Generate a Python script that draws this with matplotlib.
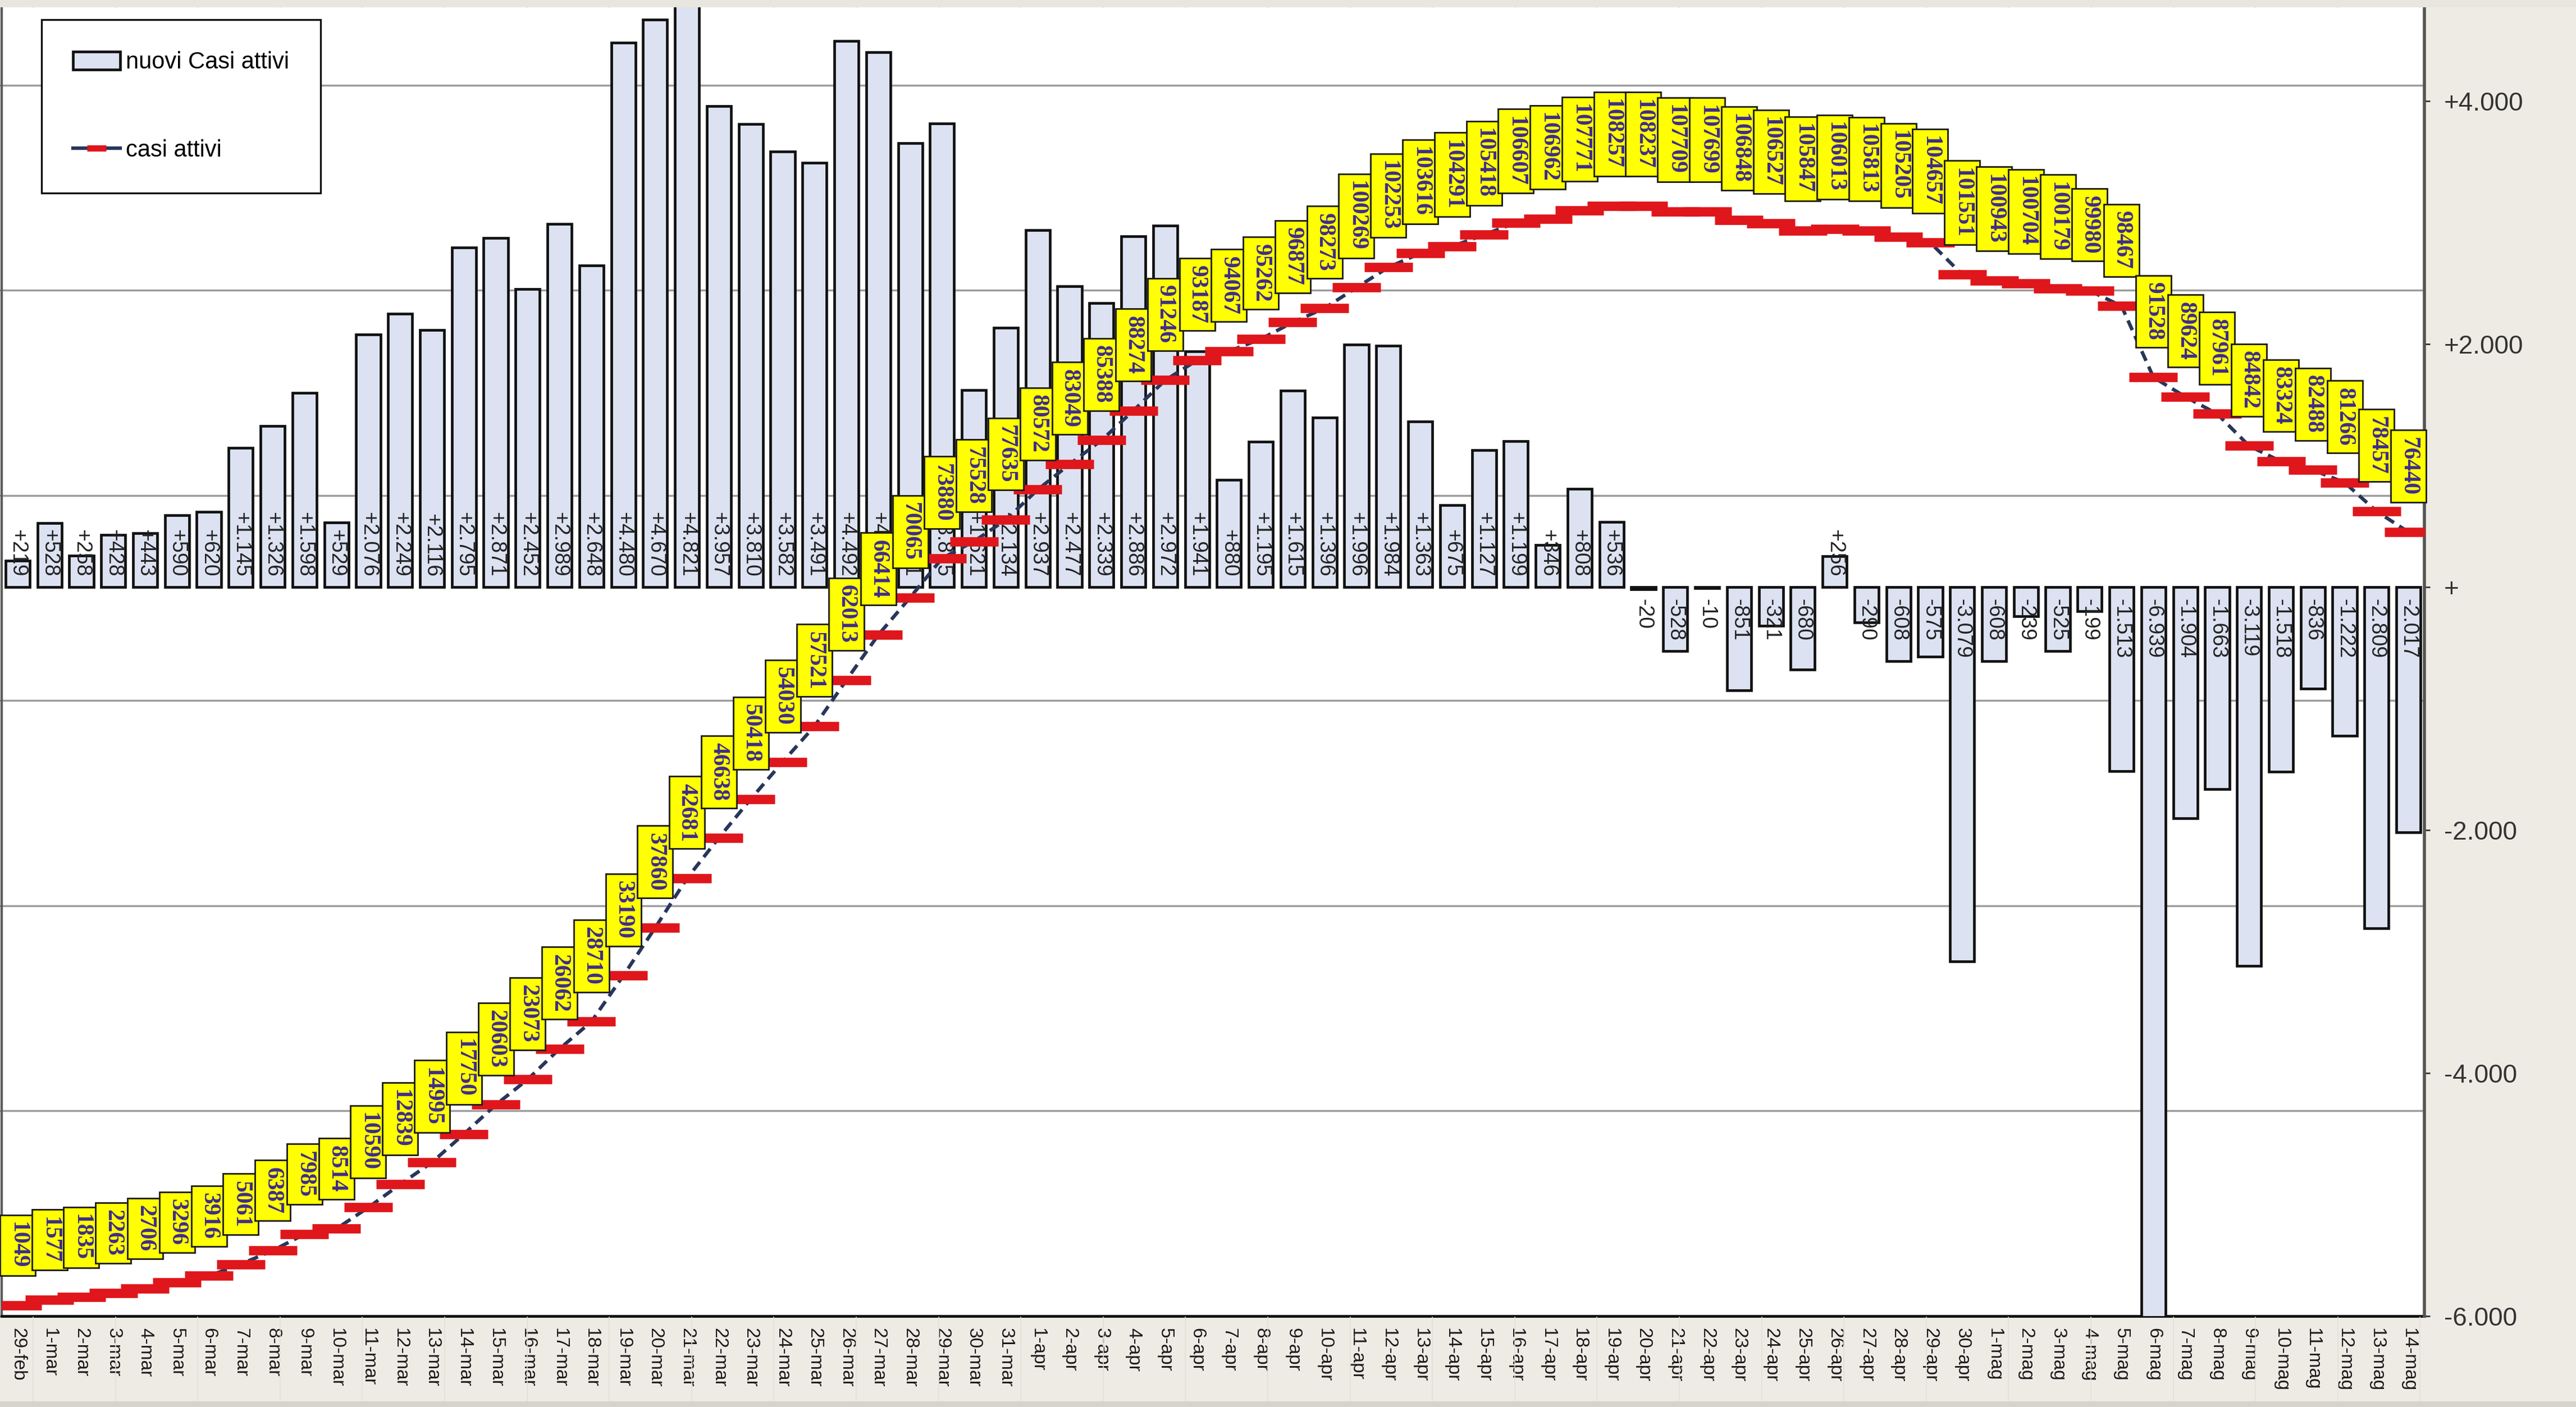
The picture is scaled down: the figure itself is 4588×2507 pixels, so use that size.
import matplotlib
matplotlib.use("Agg")
import matplotlib.pyplot as plt
from matplotlib.lines import Line2D
from matplotlib.patches import Rectangle

# --- data -------------------------------------------------------------
giorni_feb = ["29-feb"]
giorni_mar = ["1-mar", "2-mar", "3-mar", "4-mar", "5-mar", "6-mar", "7-mar", "8-mar",
              "9-mar", "10-mar", "11-mar", "12-mar", "13-mar", "14-mar", "15-mar",
              "16-mar", "17-mar", "18-mar", "19-mar", "20-mar", "21-mar", "22-mar",
              "23-mar", "24-mar", "25-mar", "26-mar", "27-mar", "28-mar", "29-mar",
              "30-mar", "31-mar"]
giorni_apr = ["1-apr", "2-apr", "3-apr", "4-apr", "5-apr", "6-apr", "7-apr", "8-apr",
              "9-apr", "10-apr", "11-apr", "12-apr", "13-apr", "14-apr", "15-apr",
              "16-apr", "17-apr", "18-apr", "19-apr", "20-apr", "21-apr", "22-apr",
              "23-apr", "24-apr", "25-apr", "26-apr", "27-apr", "28-apr", "29-apr",
              "30-apr"]
giorni_mag = ["1-mag", "2-mag", "3-mag", "4-mag", "5-mag", "6-mag", "7-mag", "8-mag",
              "9-mag", "10-mag", "11-mag", "12-mag", "13-mag", "14-mag"]
giorni = giorni_feb + giorni_mar + giorni_apr + giorni_mag

# daily change of active cases (bars, right scale)
nuovi_casi_attivi = [
    219,
    528, 258, 428, 443, 590, 620, 1145, 1326, 1598, 529, 2076, 2249, 2116, 2795, 2871,
    2452, 2989, 2648, 4480, 4670, 4821, 3957, 3810, 3582, 3491, 4492, 4401, 3651, 3815,
    1621, 2134,
    2937, 2477, 2339, 2886, 2972, 1941, 880, 1195, 1615, 1396, 1996, 1984, 1363, 675,
    1127, 1199, 346, 808, 536, -20, -528, -10, -851, -321, -680, 256, -290, -608, -575,
    -3079,
    -608, -239, -525, -199, -1513, -6939, -1904, -1663, -3119, -1518, -836, -1222,
    -2809, -2017,
]

# total active cases (line, left scale)
casi_attivi = [
    1049,
    1577, 1835, 2263, 2706, 3296, 3916, 5061, 6387, 7985, 8514, 10590, 12839, 14995,
    17750, 20603, 23073, 26062, 28710, 33190, 37860, 42681, 46638, 50418, 54030, 57521,
    62013, 66414, 70065, 73880, 75528, 77635,
    80572, 83049, 85388, 88274, 91246, 93187, 94067, 95262, 96877, 98273, 100269,
    102253, 103616, 104291, 105418, 106607, 106962, 107771, 108257, 108237, 107709,
    107699, 106848, 106527, 105847, 106013, 105813, 105205, 104657, 101551,
    100943, 100704, 100179, 99980, 98467, 91528, 89624, 87961, 84842, 83324, 82488,
    81266, 78457, 76440,
]

tick_destra = [-6000, -4000, -2000, 0, 2000, 4000]
etichette_destra = ["-6.000", "-4.000", "-2.000", "+", "+2.000", "+4.000"]
griglia_sinistra = [0, 20000, 40000, 60000, 80000, 100000, 120000]

# --- figure -----------------------------------------------------------
W, H = 4588, 2507
fig = plt.figure(figsize=(W / 100, H / 100), dpi=100, facecolor="#EEEBE5")

left, right = 3 / W, 4318 / W
bottom, top = 1 - 2345 / H, 1 - 13 / H
x = list(range(len(giorni)))

# sheet-like background details
fig.patches.append(Rectangle((0, 0), 1, 10 / H, transform=fig.transFigure,
                             facecolor="#D6D3CD", edgecolor="none", zorder=0))
fig.patches.append(Rectangle((0, top), 1, 1 - top, transform=fig.transFigure,
                             facecolor="#E8E6DE", edgecolor="none", zorder=0))
for k in range(32):
    xc = (59 + 146.6 * k) / W
    if xc < right:
        fig.lines.append(Line2D([xc, xc], [10 / H, bottom - 2 / H],
                                transform=fig.transFigure, color="#E2DFD8",
                                lw=1.2, zorder=0))
        fig.lines.append(Line2D([xc, xc], [top, 1],
                                transform=fig.transFigure, color="#CFCBC2",
                                lw=1.2, zorder=0))

# base axes: white plot area, grid on the left (hidden) scale, date labels
ax_grid = fig.add_axes([left, bottom, right - left, top - bottom])
ax_grid.set_facecolor("white")
ax_grid.set_xlim(-0.5, len(giorni) - 0.5)
ax_grid.set_ylim(0, 127600)
ax_grid.set_yticks(griglia_sinistra)
ax_grid.yaxis.grid(True, color="#9C9C9C", lw=2.5)
ax_grid.set_axisbelow(True)
ax_grid.tick_params(axis="y", left=False, labelleft=False)
ax_grid.set_xticks(x)
ax_grid.set_xticklabels(giorni, rotation=270, fontsize=24, family="Liberation Sans",
                        color="#1A1A1A")
ax_grid.tick_params(axis="x", length=0, pad=15)
for s in ("top", "right"):
    ax_grid.spines[s].set_visible(False)
ax_grid.spines["left"].set_color("#5A5A5A")
ax_grid.spines["left"].set_linewidth(3)
ax_grid.spines["bottom"].set_color("#111111")
ax_grid.spines["bottom"].set_linewidth(3.5)

# bars on the right scale
ax_bar = ax_grid.twinx()
ax_bar.set_ylim(-6000, 4771)
barre = ax_bar.bar(x, nuovi_casi_attivi, width=0.76, color="#DCE2F1",
                   edgecolor="#111111", linewidth=3.4, label="nuovi Casi attivi")
ax_bar.set_yticks(tick_destra)
ax_bar.set_yticklabels(etichette_destra, family=["Liberation Sans Narrow", "Liberation Sans"])
ax_bar.tick_params(axis="y", right=True, length=7, width=2, pad=18, labelsize=33,
                   colors="#333333")
for s in ("top", "left", "bottom"):
    ax_bar.spines[s].set_visible(False)
ax_bar.spines["right"].set_color("#555555")
ax_bar.spines["right"].set_linewidth(4)

for xi, v in zip(x, nuovi_casi_attivi):
    testo = f"{v:+,}".replace(",", ".")
    ax_bar.annotate(testo, (xi, 0), xytext=(0, 13 if v > 0 else -15),
                    textcoords="offset points", rotation=270, ha="center",
                    va="bottom" if v > 0 else "top", fontsize=27,
                    family="Liberation Sans", color="#222222")

# active-cases line on the left scale, with value boxes
ax_line = ax_grid.twinx()
ax_line.set_ylim(0, 127600)
ax_line.yaxis.set_visible(False)
for s in ax_line.spines.values():
    s.set_visible(False)

ax_line.plot(x, casi_attivi, color="#27365A", lw=4.5, dashes=(3, 1.8),
             marker="_", ms=62, mew=12, mec="#DF161B", mfc="#DF161B")

for xi, v in zip(x, casi_attivi):
    ax_line.annotate(f"{v}", (xi, v), xytext=(0, 47), textcoords="offset points",
                     rotation=270, ha="center", va="bottom", fontsize=30,
                     fontweight="bold", family="Liberation Serif", color="#3D2C8D",
                     bbox=dict(boxstyle="square,pad=0.3", fc="#FFFF00",
                               ec="#1A1A1A", lw=2))

# legend
maniglia_linea = Line2D([], [], color="#27365A", lw=4.5, marker="_", ms=24, mew=8,
                        mec="#DF161B")
leg = ax_line.legend([barre, maniglia_linea], ["nuovi Casi attivi", "casi attivi"],
                     loc="upper left", bbox_to_anchor=(74 / W, 1 - 35 / H),
                     bbox_transform=fig.transFigure, borderaxespad=0,
                     prop={"family": "Liberation Sans", "size": 30},
                     handlelength=2.0, handleheight=0.8, handletextpad=0.25,
                     labelspacing=2.8, borderpad=1.35, fancybox=False,
                     framealpha=1, edgecolor="#111111")
leg.get_frame().set_linewidth(2.4)

fig.savefig("out.png", dpi=100, facecolor=fig.get_facecolor())
